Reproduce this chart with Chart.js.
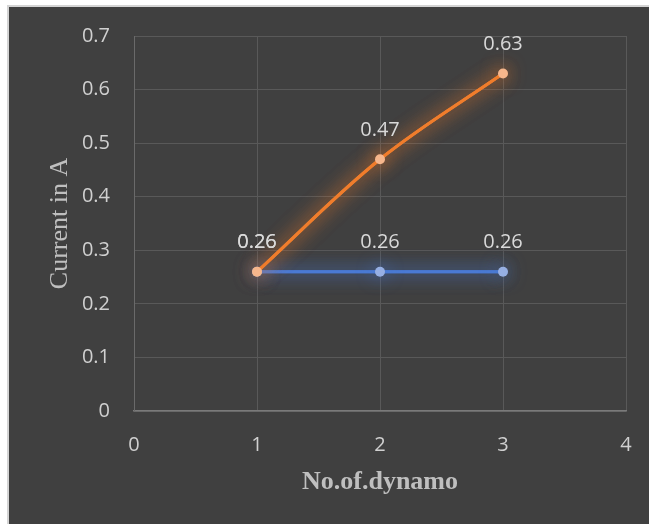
<!DOCTYPE html>
<html>
<head>
<meta charset="utf-8">
<script src="https://cdn.jsdelivr.net/npm/chart.js@4.4.1/dist/chart.umd.min.js"></script>
<style>
  html, body { margin: 0; padding: 0; background: #ffffff; }
  #wrap { position: absolute; left: 0; top: 0; width: 649px; height: 524px; }
</style>
</head>
<body>
<div id="wrap"><canvas id="chart" width="649" height="524"></canvas></div>
<script>
// Number of dynamos on the x axis
const dynamoCount = [1, 2, 3];
// Current readings (A) for the two arrangements
const currentFlat = [0.26, 0.26, 0.26];
const currentRising = [0.26, 0.47, 0.63];
const xTicks = [0, 1, 2, 3, 4];
const yTicks = [0, 0.1, 0.2, 0.3, 0.4, 0.5, 0.6, 0.7];
const xTitle = 'No.of.dynamo';
const yTitle = 'Current in A';

const toPoints = (xs, ys) => xs.map((x, i) => ({ x: x, y: ys[i] }));

// Dark panel behind the chart with a thin light edge
const panel = {
  id: 'panel',
  beforeDraw(chart) {
    const ctx = chart.ctx;
    ctx.save();
    ctx.fillStyle = '#ffffff';
    ctx.fillRect(0, 0, chart.width, chart.height);
    ctx.fillStyle = '#d4d4d4';
    ctx.fillRect(7, 5, chart.width - 7, chart.height - 5);
    ctx.fillStyle = '#404040';
    ctx.fillRect(9, 7, chart.width - 9, chart.height - 7);
    ctx.restore();
  }
};

// Soft glow around each series: the line is stroked once more with a
// blurred shadow before the regular draw
const glow = {
  id: 'glow',
  beforeDatasetDraw(chart, args) {
    const ds = chart.data.datasets[args.index];
    const ctx = chart.ctx;
    ctx.save();
    ctx.shadowColor = ds.glowColor;
    ctx.shadowBlur = 18;
    args.meta.dataset.draw(ctx, chart.chartArea);
  },
  afterDatasetDraw(chart) {
    chart.ctx.restore();
  }
};

// Value labels above each point, plus the axis titles
const labels = {
  id: 'labels',
  afterDatasetsDraw(chart) {
    const ctx = chart.ctx;
    ctx.save();
    ctx.font = '20px "Open Sans"';
    ctx.fillStyle = '#d9d9d9';
    ctx.textAlign = 'center';
    ctx.textBaseline = 'middle';
    chart.data.datasets.forEach((ds, di) => {
      const meta = chart.getDatasetMeta(di);
      meta.data.forEach((pt, i) => {
        ctx.fillText(ds.data[i].y.toFixed(2), pt.x, pt.y - 29);
      });
    });

    const xs = chart.scales.x, ys = chart.scales.y;
    ctx.fillStyle = '#bfbfbf';
    ctx.font = 'bold 26px "Liberation Serif"';
    ctx.textBaseline = 'alphabetic';
    ctx.fillText(xTitle, (xs.left + xs.right) / 2, 489);

    ctx.font = '26px "Liberation Serif"';
    ctx.translate(67, (ys.top + ys.bottom) / 2);
    ctx.rotate(-Math.PI / 2);
    ctx.fillText(yTitle, 0, 0);
    ctx.restore();
  }
};

new Chart(document.getElementById('chart'), {
  type: 'scatter',
  data: {
    datasets: [
      {
        data: toPoints(dynamoCount, currentRising),
        showLine: true,
        tension: 0.35,
        borderColor: '#F07D2C',
        borderWidth: 3,
        pointRadius: 5,
        pointBorderWidth: 0,
        pointBackgroundColor: '#F6B68C',
        glowColor: 'rgba(240,125,44,0.8)'
      },
      {
        data: toPoints(dynamoCount, currentFlat),
        showLine: true,
        borderColor: '#4A7AD3',
        borderWidth: 3,
        pointRadius: 5,
        pointBorderWidth: 0,
        pointBackgroundColor: '#96AFE3',
        glowColor: 'rgba(74,122,211,0.9)'
      }
    ]
  },
  options: {
    responsive: false,
    animation: false,
    layout: { padding: { left: 0, top: 36, right: 23, bottom: 0 } },
    plugins: { legend: { display: false }, tooltip: { enabled: false } },
    scales: {
      x: {
        type: 'linear',
        min: xTicks[0],
        max: xTicks[xTicks.length - 1],
        afterBuildTicks(scale) { scale.ticks = xTicks.map(v => ({ value: v })); },
        afterFit(scale) {
          scale.height = 113;
          scale.paddingLeft = 0;
          scale.paddingRight = 0;
        },
        grid: { color: '#595959', lineWidth: 1, drawTicks: false },
        border: { color: '#7a7a7a', width: 1.5 },
        ticks: {
          color: '#d0d0d0',
          font: { family: 'Open Sans', size: 20 },
          padding: 22,
          callback: v => String(v)
        }
      },
      y: {
        type: 'linear',
        min: yTicks[0],
        max: yTicks[yTicks.length - 1],
        afterBuildTicks(scale) { scale.ticks = yTicks.map(v => ({ value: v })); },
        afterFit(scale) { scale.width = 134; },
        grid: { color: '#595959', lineWidth: 1, drawTicks: false },
        border: { color: '#6a6a6a', width: 1 },
        ticks: {
          color: '#d0d0d0',
          font: { family: 'Open Sans', size: 20 },
          padding: 24,
          callback: v => String(Math.round(v * 10) / 10)
        }
      }
    }
  },
  plugins: [panel, glow, labels]
});
</script>
</body>
</html>
